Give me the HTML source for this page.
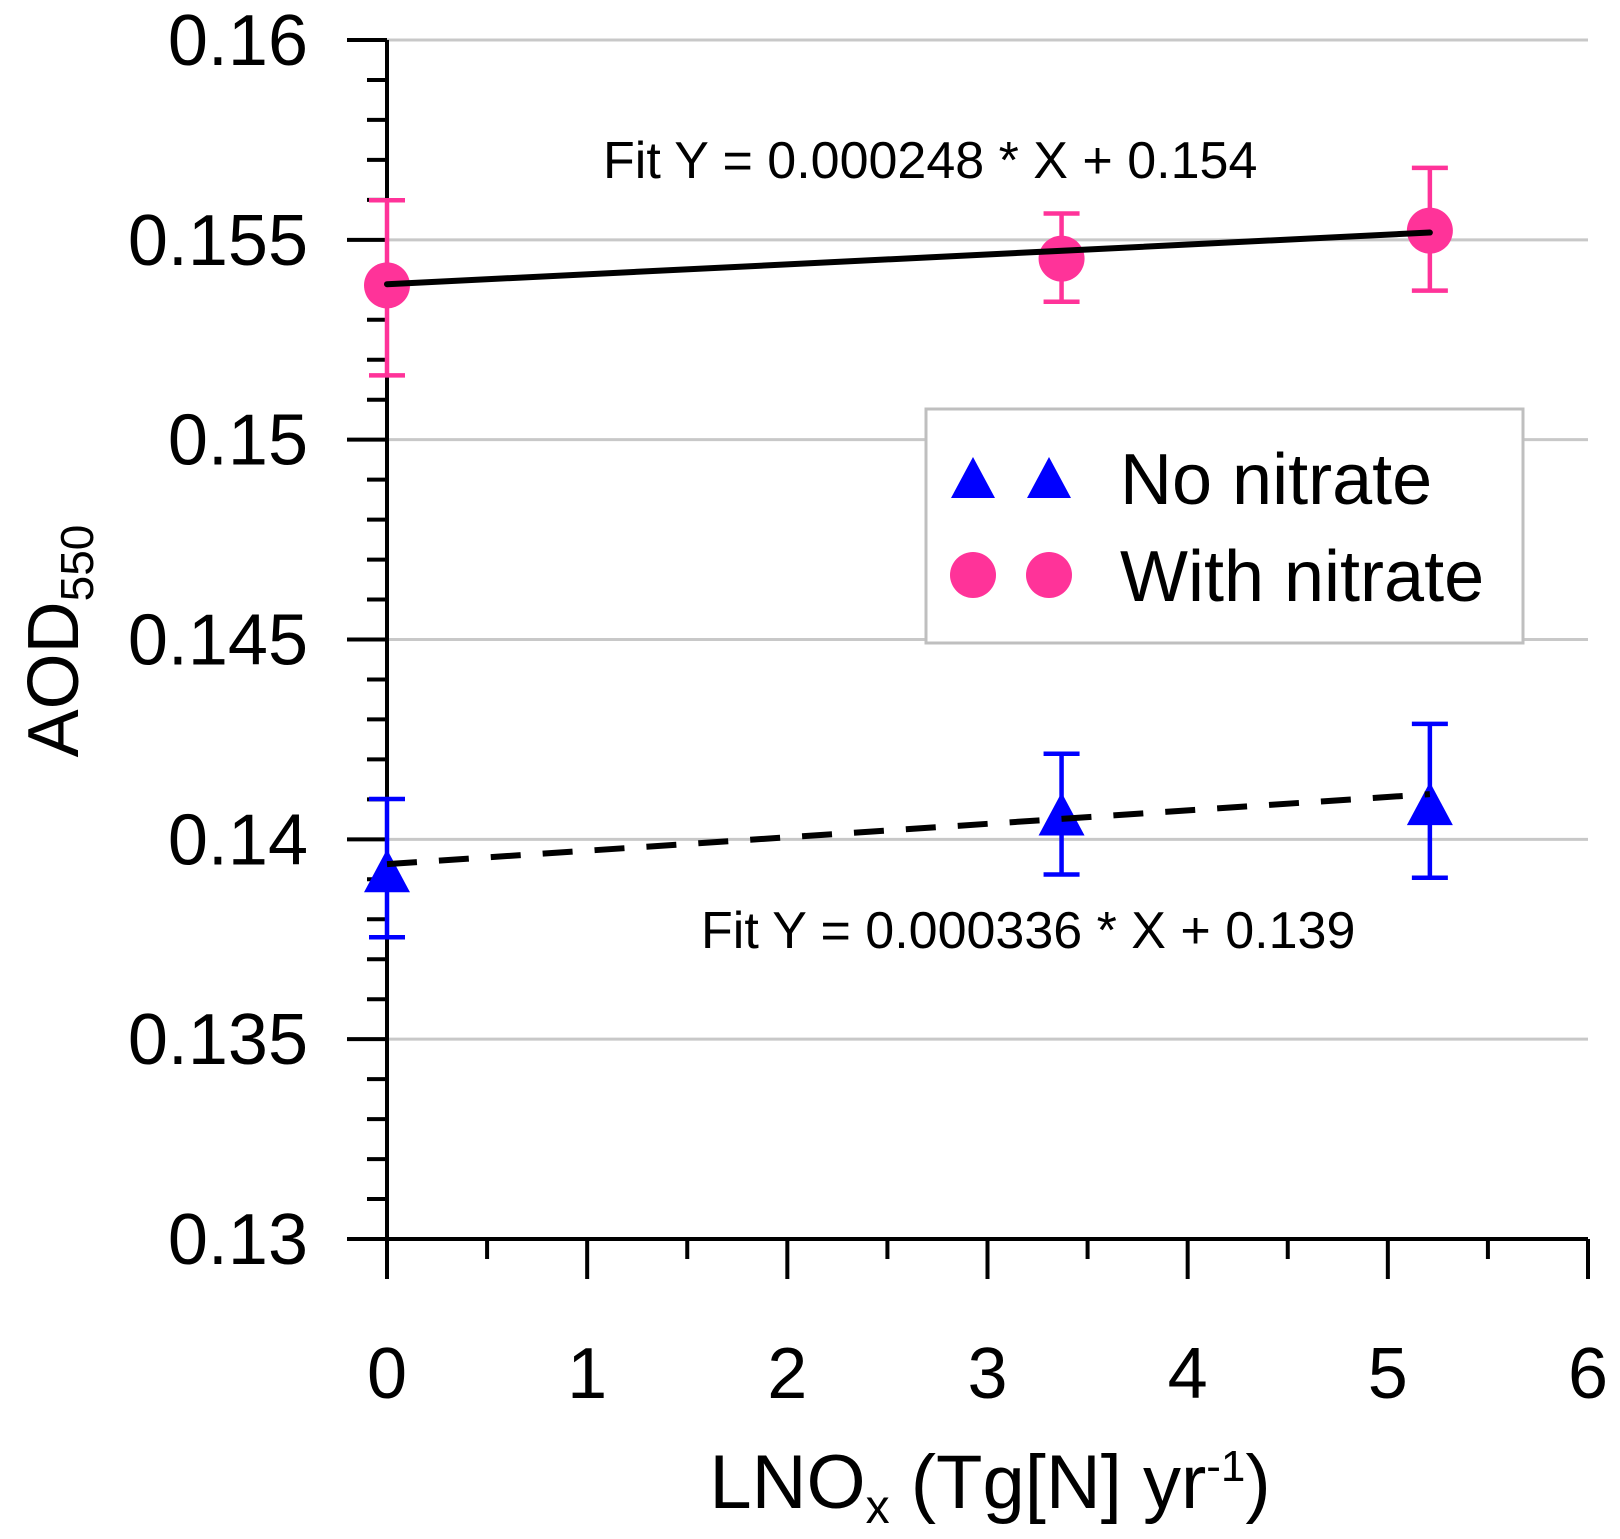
<!DOCTYPE html>
<html><head><meta charset="utf-8"><style>
html,body{margin:0;padding:0;background:#fff;}
svg{display:block;font-family:"Liberation Sans","DejaVu Sans",sans-serif;}
</style></head><body>
<svg id="chart" width="1620" height="1539" viewBox="0 0 1620 1539" xmlns="http://www.w3.org/2000/svg">
<g id="grid"></g>
<g id="axes"></g>
<g id="fits"></g>
<g id="series"></g>
<text x="603" y="178" font-size="52">Fit Y = 0.000248 * X + 0.154</text>
<text x="701" y="948" font-size="52">Fit Y = 0.000336 * X + 0.139</text>
<g>
<rect x="926" y="409" width="597" height="234" fill="#fff" stroke="#bfbfbf" stroke-width="3"/>
<polygon points="973,457 995,498 951,498" fill="#0000ff"/>
<polygon points="1049,457 1071,498 1027,498" fill="#0000ff"/>
<text x="1120" y="504" font-size="72">No nitrate</text>
<circle cx="973" cy="575" r="23" fill="#ff3399"/>
<circle cx="1049" cy="575" r="23" fill="#ff3399"/>
<text x="1120" y="601" font-size="72">With nitrate</text>
</g>
<text x="990" y="1508" font-size="76" text-anchor="middle">LNO<tspan font-size="48" dy="15">x</tspan><tspan dy="-15"> (Tg[N] yr</tspan><tspan font-size="44" dy="-27">-1</tspan><tspan dy="27">)</tspan></text>
<text transform="translate(78,641) rotate(-90)" font-size="72" text-anchor="middle">AOD<tspan font-size="46" dy="15">550</tspan></text>
</svg>
<script>
const xTicks=[0,1,2,3,4,5,6];
const yTicks=[0.13,0.135,0.14,0.145,0.15,0.155,0.16];
const yTickLabels=["0.13","0.135","0.14","0.145","0.15","0.155","0.16"];
const xs=[0,3.37,5.21];
const withNitrate=[0.15386,0.15453,0.15523];
const withErrHi=[0.15599,0.15566,0.15680];
const withErrLo=[0.15161,0.15345,0.15373];
const noNitrate=[0.13915,0.14057,0.14083];
const noErrHi=[0.14101,0.14214,0.14289];
const noErrLo=[0.13755,0.13912,0.13904];
const fitSlopes=[0.000248,0.000336];
const fitIntercepts=[0.15389,0.13938];
const X0=387,X1=1588,Y0=40,Y1=1239;
const sx=v=>X0+(v-0)/6*(X1-X0);
const sy=v=>Y0+(0.16-v)/0.03*(Y1-Y0);
const NS="http://www.w3.org/2000/svg";
function mk(parent,tag,attrs){const e=document.createElementNS(NS,tag);for(const k in attrs)e.setAttribute(k,attrs[k]);document.getElementById(parent).appendChild(e);return e;}
yTicks.forEach((v,i)=>{
 if(i>0){const g=mk('grid','line',{x1:X0,x2:X1,y1:sy(v),y2:sy(v),stroke:'#c8c8c8','stroke-width':3});
 
 }
 const t=mk('axes','line',{x1:X0-40,x2:X0,y1:sy(v),y2:sy(v),stroke:'#000','stroke-width':4});
 
 
 const l=mk('axes','text',{x:308,y:sy(v)+25,'font-size':72,'text-anchor':'end'});
 l.textContent=yTickLabels[i];
 
 
});
for(let k=1;k<30;k++){if(k%5===0)continue;const v=0.13+k*0.001;
 const t=mk('axes','line',{x1:X0-20,x2:X0,y1:sy(v),y2:sy(v),stroke:'#000','stroke-width':4});
 
 }
xTicks.forEach(v=>{
 const t=mk('axes','line',{x1:sx(v),x2:sx(v),y1:Y1,y2:Y1+40,stroke:'#000','stroke-width':4});
 
 
 const l=mk('axes','text',{x:sx(v),y:1398,'font-size':72,'text-anchor':'middle'});
 l.textContent=String(v);
 
 
 if(v<6){const m=mk('axes','line',{x1:sx(v+0.5),x2:sx(v+0.5),y1:Y1,y2:Y1+20,stroke:'#000','stroke-width':4});
 
 }
});
const ya=mk('axes','line',{x1:X0,x2:X0,y1:Y0,y2:Y1,stroke:'#000','stroke-width':4});


const xa=mk('axes','line',{x1:X0,x2:X1,y1:Y1,y2:Y1,stroke:'#000','stroke-width':4});


function errbar(x,hi,lo,col){
 const a=[[sx(x),sy(hi),sx(x),sy(lo)],[sx(x)-18,sy(hi),sx(x)+18,sy(hi)],[sx(x)-18,sy(lo),sx(x)+18,sy(lo)]];
 a.forEach(c=>{const e=mk('series','line',{x1:c[0],y1:c[1],x2:c[2],y2:c[3],stroke:col,'stroke-width':4.5});
 
 });
}
xs.forEach((x,i)=>{errbar(x,withErrHi[i],withErrLo[i],'#ff3399');errbar(x,noErrHi[i],noErrLo[i],'#0000ff');});
const xmax=xs[xs.length-1];
const f1=mk('fits','line',{x1:sx(0),y1:sy(fitIntercepts[0]),x2:sx(xmax),y2:sy(fitIntercepts[0]+fitSlopes[0]*xmax),stroke:'#000','stroke-width':6,'stroke-linecap':'round'});


xs.forEach((x,i)=>{
 const c=mk('series','circle',{cx:sx(x),cy:sy(withNitrate[i]),r:23,fill:'#ff3399'});
 
 
 const px=sx(x),py=sy(noNitrate[i]);
 const t=mk('series','polygon',{points:`${px},${py-24} ${px+23},${py+19} ${px-23},${py+19}`,fill:'#0000ff'});
 
 
});
document.getElementById('series').appendChild(f1);
const f2=mk('series','line',{x1:sx(0),y1:sy(fitIntercepts[1]),x2:sx(xmax),y2:sy(fitIntercepts[1]+fitSlopes[1]*xmax),stroke:'#000','stroke-width':6,'stroke-dasharray':'30,22'});


</script>
</body></html>
